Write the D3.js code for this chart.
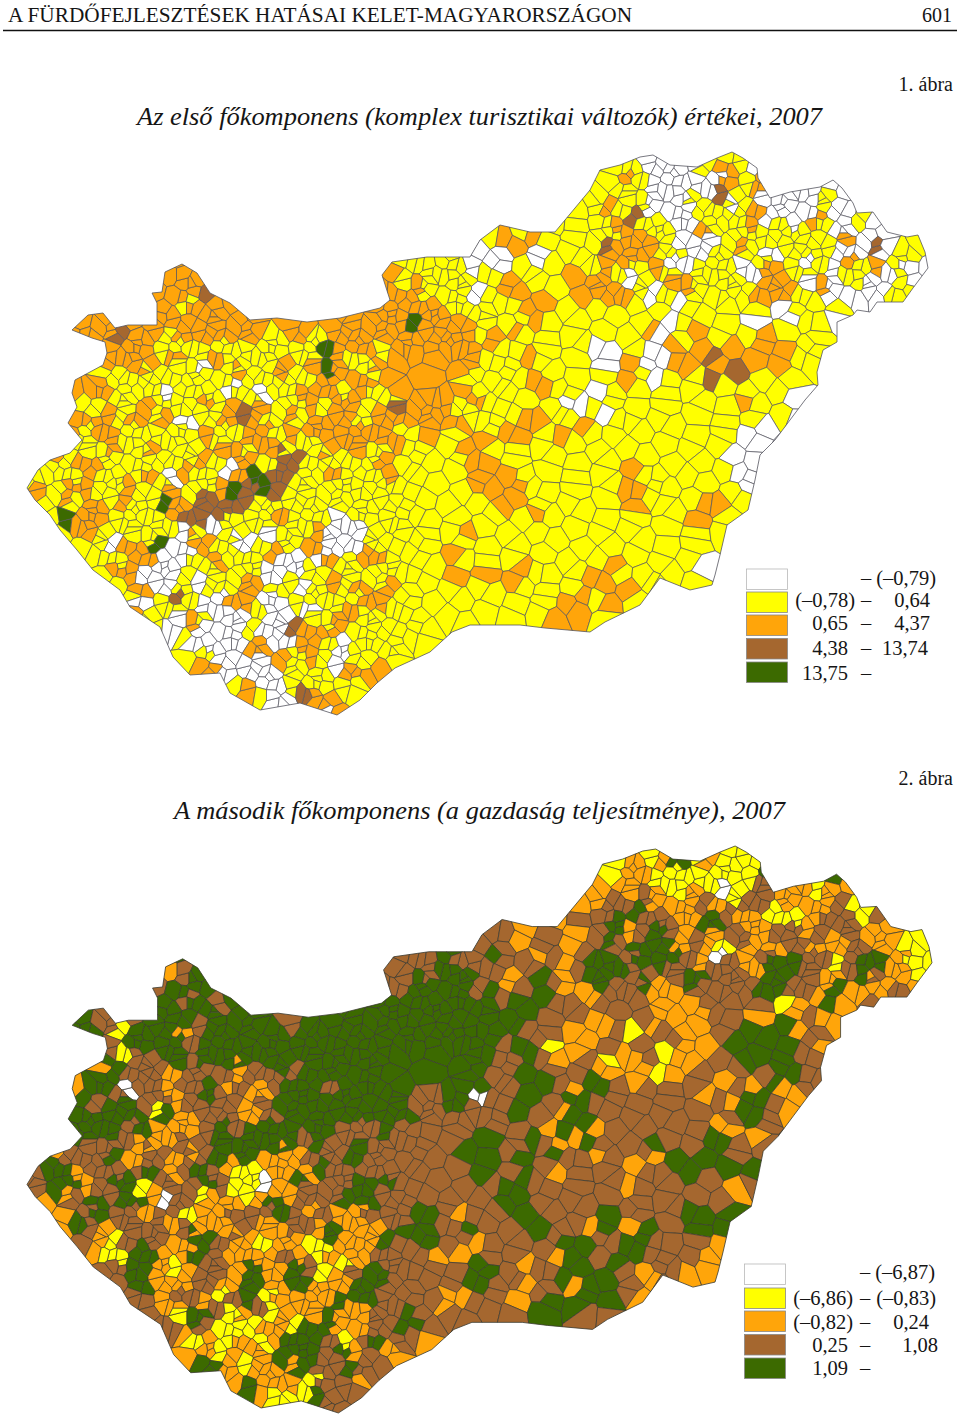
<!DOCTYPE html>
<meta charset="utf-8">
<style>
  body { margin: 0; background: #fff; }
  text { font-family: "Liberation Serif", serif; fill: #151515; }
</style>
<script src="https://d3js.org/d3.v7.min.js"></script>
<div id="page"></div>
<script>
// Category (0 white ... 4 green)
const classColors = ["#ffffff", "#ffff00", "#ffa50a", "#a5672f", "#3c6a00"];
const legend1Low = ["", "(–0,78)", "0,65", "4,38", "13,75"];
const legend1High = ["(–0,79)", "0,64", "4,37", "13,74", ""];
const legend2Low = ["", "(–6,86)", "(–0,82)", "0,25", "1,09"];
const legend2High = ["(–6,87)", "(–0,83)", "0,24", "1,08", ""];

// Country border
const outline = [[27,488],[38,470],[50,460],[70,453],[82,440],[68,423],[77,407],[72,393],[75,380],[103,365],[107,353],[105,342],[92,338],[72,330],[88,315],[103,313],[115,328],[128,325],[157,325],[157,303],[152,293],[162,292],[165,272],[182,264],[197,273],[210,293],[230,303],[250,320],[277,318],[307,322],[340,318],[380,308],[390,300],[382,275],[392,262],[427,257],[470,257],[480,240],[500,225],[530,232],[555,232],[590,190],[600,170],[620,165],[640,157],[653,155],[670,165],[697,167],[717,158],[732,152],[743,158],[757,168],[758,178],[770,198],[790,192],[820,187],[833,180],[842,188],[853,203],[857,213],[873,212],[887,232],[907,237],[918,235],[925,252],[928,268],[913,288],[903,302],[890,302],[877,302],[870,312],[857,310],[853,315],[837,322],[837,342],[823,350],[817,372],[818,385],[805,400],[790,420],[775,440],[760,455],[755,480],[748,510],[727,525],[720,555],[715,575],[712,585],[690,590],[660,578],[640,605],[605,622],[590,632],[545,628],[520,625],[470,625],[452,632],[430,652],[395,668],[377,683],[360,700],[337,715],[300,703],[260,710],[230,693],[220,673],[190,675],[173,657],[160,627],[130,607],[120,590],[93,570],[77,550],[60,530],[50,515],[35,500]];

// Class of each map area: [first column, classes]
// "." leaves a gap in the row, blanks are only for reading
const map1Rows = [
[47,"1"],
[39,"1100001210"],
[39,"12100000212....0"],
[38,"1110 00 1 0 3 1 2 0000 1 0"],
[37,"11 2 1 1 0 0 0 1 1 0 1 2 000 1 00"],
[35,"1111231100111201021010"],
[31,"121211111221102011111110200"],
[29,"1002200113222110012101111003011"],
[10,"2.............. 11111000101111221200111012101021 2100"],
[9,"222............ 211111112111222101 1211110221001100 10"],
[9,"2223........... 222111012221122221 012111122212 0000 11"],
[9,"21222......... 22222 11111 222 1111111 0 111111 0 11111"],
[4,"2222.2222222..... 22222 4 222 1111 2 11111111 0 11111 000 11 0"],
[3,"2223 22 1 222222 1 22 1 2222222222 1 22 11111111 2 0 1 22 111 2 1111"],
[5,"2222 11111111111 4 222 1 2222222 111111 000 1 0 222222222 11"],
[5,"22222 1 0 2 1111 2 1 22 11 22....2 111 2 1111 00 2 00 22 3 22222 11"],
[5,"111111111 2 11 2 11 4 22 1 2..2.2 1111 2 11111 2 1 0 111 333 1111"],
[3,"222 111 0 111 0 1 0 11 222 1 2 1 2....2 1111 2 111 0 1111111111111"],
[4,"1111 2 111 2 1 2 1 2 11 2 1 22 11 3 222 1 2 11111 00 1111111111 2 11 0"],
[3,"222 1 2 1 2 0 11 2 3 2 1 2 1 222 1 222222 1111 22 111 0 111111111111 0"],
[3,"2 1 22 11111 2 11 22 1 2222222 11 22 111 222 1 22 1111111111 000"],
[2,"2 11 2 11 2 1111 2 1 22 111 222 1 2 1111 22 11111111111111111 000"],
[2,"2 1 2 1111111 2 1 22 1 33 11111 2 11111 222 11111111111111 0000"],
[0,"1111 2 111 2 0 2 11 0 2 4 33 11 2 111 2 11111 222 1111111 2 111111 000"],
[0,"1 2 1 22 11 2 11 2 11 2 4 3 4 3 111111111111 2222 111111 22 111111 0"],
[1,"1 2 1 2 1 2 11 4 2 3333 1111111111111111 222 111111 2 1111 22 1"],
[2,"1 4 22 1111 2 333 111 2 111 0 111111111111 2 1111111111 22 1"],
[2,"1 22 11111 0 1 0 111 0 11 2 000 111111 2 11111111111111111"],
[4,"11 0 2 1 4 0 22 1 0 0 111 2 000 111111111111111111111111"],
[4,"111 22 00 1 2 111 2 000 2 1 22 1111 2 11111111111111111"],
[5,"1 22 0 00 11111 00 0 1111111111 22222 1111 22 11111 00"],
[6,"1 2 00 1 0 11 22 11 0 1 2 1 2 1 2 1111111 2 11111 222 1111"],
[7,"1 0 1 3 1 0 0 22 0 0 1 1111 22 11111111111 22 1 22 11"],
[7,"2 11 0 1 0 0 0 1 000 1 22 1111111111111 222 11"],
[9,"1 0 2 0 0 0 1 0 0 3 2 1 2 11 111111"],
[10,"1 0 0 0 0 2 00 22 1 0 11111"],
[11,"1 1 00 2 0 2 1 2 1 0 1111"],
[11,"22 000 0 111 0 222"],
[14,"1 2 00 11111"],
[15,"1 00 3 22 1"],
[20,"02"]
];

const map2Rows = [
[47,"1"],
[39,"1212412111"],
[39,"12211111114....4"],
[38,"22221121 0 1 33 22 1 22"],
[37,"22333 222 3 2 1 33 2222 3 1"],
[35,"2333 44 33 22 4 3 22 111 2 33 1 3"],
[31,"33 22 33 2 3 4 2 3 4 3 2 4 2 3 22 33 2 333 22"],
[29,"4 33 22 33 22 4 3 444 2 3 2 1 3 22 33 222 3 22 11"],
[10,"4.............. 333 4 33 4 33 2 3 2 3 44 3 444 3 2 0 3 2 3 44 33 1 3 44 2 11"],
[9,"2 3 4............ 333 444 33 2 3 4 2 3 444 3333 4 333 2 44 33 2 3 4 3 22 1"],
[9,"3444........... 33 4444 3 4 2 333 22 4 33 4 22 4 3333 44 33 2 4 222 3 2"],
[9,"43434......... 44444444 3 444 33 2 3333 222 33333 1 22 4 22 3"],
[4,"4343.4444444..... 44444444444444 333 2 333 2222 333 222 3 22"],
[3,"44314442344 444 3 444444444444444 333 222 3 1 2 3 222 33 444 2 3 2"],
[5,"4344443 44444444444444444444 3 4 3 11 22 33333 222 44444 3 2"],
[5,"4133 4444444444444444 .... 44 33 4 3 22 3 1 22 3 1 222 3 4444 33"],
[5,"2433323332334 3 444444 ..4.44 33 44 333 2222 1 22 33333 44 3"],
[3,"24403323342 3 2 3 444 3 4444 .... 44 3 33 4 3 2 44 3 2 33333 2 3 2 4 2 33"],
[4,"433433 2 3 4 33 2 3 4 44444444 33 44 0 33 44 3 44 3333333 2 3 2 44 3 2"],
[3,"44444 1 4 2 333 22 3 4 44444444 333333 44 3 2 44 3 33333333 44 3 2"],
[3,"4444 3 4 222 3 4 3 444444 333 4 3333333333 2 44 2 3333333 222 33"],
[2,"44 333 222 33 444444 3 4 33 4 3333333 44 3 4 3 22 4 333 4 333 44 3 2 33"],
[2,"2 333 4 2 33 22 3 444 222 333 4 333333 444 3 444 33 2 333 2 4444 3"],
[0,"3 44 2 3333 4 2 3 4 3 2 11 222 4 3 333333333 44 333 2 3333 2 333 44444"],
[0,"33 44 2 3 44 1 333 4 3 11 0 2 4 333 444 3333333 44 333333 2 333333 2 3"],
[1,"22 3 4 3 44 2 0 3 1 22 1 2 4 2 333 44 3 3333333 444 33333333333333"],
[3,"2 3 4 33 2 33 1 22 333 4 3 2 3 22 3 33 44 3 2 333 44 3333 4 3333 4444"],
[2,"2 4 3 2 333 2 3 222 3 22 33 2 4 222 3 44 33 4 3333 4 33 2 44 2 4 33 4444"],
[4,"3 2 1 333 2 44 3 22 1 22 1 4 222 4 3 44 33 2 33333 44 33 44 3333 2"],
[4,"2 11 44 22 4 3 2222 3 2 1 222 3333 222 33333 2 44 33 4 3333 2"],
[5,"33 44 2 1 2 33 2 4 22 4 3 11 3 4 333333 44 3 2 333 444 3 2 33 222"],
[6,"3 4 222 33 2 44 2 44 222 44 33333 44 33 2 3 4 2 444 3 2 33"],
[7,"33233 2 1 3 4 1 2222 444 3333 22 333 2 3 44444 3 2"],
[8,"3 2 1 4 3 1 2 3 1 222222 33 4 3 2 333333 444 333"],
[9,"33 4 3 111 22 1 44 22 33 44 333"],
[10,"2 1 2 1 2 1 2 444 3 1 3 4 33 2"],
[11,"22 1 222 444 3 4 2 3 22"],
[11,"44 2 1 222 4 33 4 33"],
[14,"2 4 222 1 33 2"],
[15,"2 111 4 33"],
[20,"33"]
];

const width = 960, height = 1415;
const svg = d3.select("#page").append("svg").attr("width", width).attr("height", height);

// lattice the samples sit on
const col = d3.scaleLinear().domain([0, 60]).range([25, 925]);
const row = d3.scaleLinear().domain([0, 40]).range([152, 712]);
// small fixed nudges so the cells are not a plain honeycomb, purely cell shape
const nudgeX = [3, -4, 1, 5, -2, -5, 2, 4, -3];
const nudgeY = [-3, 2, 5, -4, 1, 4, -5, -1, 3];
const splitDir = [[4, 1], [1, 4], [3, -3]];

function readRows(rows) {
    const cells = [];
    rows.forEach(function (r, i) {
        const codes = r[1].replace(/ /g, "");
        let prev = null;
        for (let k = 0; k < codes.length; k++) {
            const ch = codes[k];
            if (ch === ".") { prev = null; continue; }
            const c = r[0] + k;
            const cx = col(c) + (i % 2 ? 7.5 : 0);
            const cy = row(i);
            const px = cx + nudgeX[(c * 2 + i * 5) % 9];
            const py = cy + nudgeY[(c * 4 + i * 7) % 9];
            // villages are small in the west and the north-east, units are bigger on the plain
            const small = cx < 400 || (cy < 420 && cx < 480) || (cy < 300 && cx > 590);
            const large = !small && (cx > 520 || (cy > 430 && cx > 420));
            // on the plain same class neighbours share a cell
            if (large && ch === prev && (c + i) % 2 === 0) continue;
            // in village country one sample is drawn as two units of the same class
            if (small && prev !== null && codes[k + 1] && codes[k + 1] !== ".") {
                const d = splitDir[(c + i * 2) % 3];
                cells.push({ cx: px + d[0], cy: py + d[1], cls: +ch });
                cells.push({ cx: px - d[0], cy: py - d[1], cls: +ch });
            } else {
                cells.push({ cx: px, cy: py, cls: +ch });
            }
            prev = ch;
        }
    });
    return cells;
}

function drawMap(id, rows, yRange, xRange, stroke) {
    const x = d3.scaleLinear().domain([25, 930]).range(xRange);
    const y = d3.scaleLinear().domain([152, 714]).range(yRange);
    const cells = readRows(rows);
    const line = d3.line().x(d => x(d[0])).y(d => y(d[1])).curve(d3.curveLinearClosed);

    svg.append("clipPath").attr("id", id).append("path").attr("d", line(outline));

    const delaunay = d3.Delaunay.from(cells, d => x(d.cx), d => y(d.cy));
    const voronoi = delaunay.voronoi([0, yRange[0] - 20, width, yRange[1] + 20]);

    svg.append("g").attr("clip-path", `url(#${id})`)
        .selectAll("path")
        .data(cells)
        .join("path")
        .attr("d", (d, i) => voronoi.renderCell(i))
        .attr("fill", d => classColors[d.cls])
        .attr("stroke", stroke)
        .attr("stroke-width", 0.7);

    svg.append("path").attr("d", line(outline))
        .attr("fill", "none").attr("stroke", stroke).attr("stroke-width", 0.8);
}

drawMap("clip1", map1Rows, [152, 714], [25, 930], "#55555f");
drawMap("clip2", map2Rows, [846, 1412], [25, 934], "#3a3a30");

function drawLegend(low, high, sx, swatchY, baseY, lowX, dashX, highX) {
    const g = svg.append("g");
    g.selectAll("rect").data(classColors).join("rect")
        .attr("x", sx)
        .attr("y", (d, i) => swatchY[i])
        .attr("width", 41).attr("height", 20.5)
        .attr("fill", d => d)
        .attr("stroke", (d, i) => i === 0 ? "#b8b8b8" : "#888").attr("stroke-width", 0.8);
    low.forEach(function (t, i) {
        if (t) g.append("text").attr("x", lowX[i]).attr("y", baseY[i]).attr("text-anchor", "end").attr("font-size", 20.5).text(t);
        g.append("text").attr("x", dashX).attr("y", baseY[i]).attr("text-anchor", "middle").attr("font-size", 20.5).text("–");
        if (high[i]) g.append("text").attr("x", highX[i]).attr("y", baseY[i]).attr("text-anchor", "end").attr("font-size", 20.5).text(high[i]);
    });
}
drawLegend(legend1Low, legend1High, 746.5, [569, 592, 615, 638.5, 662], [585, 607, 630, 655, 680], [0, 855, 848, 848, 848], 866, [936, 930, 930, 928, 0]);
drawLegend(legend2Low, legend2High, 744.5, [1264, 1288, 1311, 1334.5, 1358], [1279, 1305, 1329, 1352, 1375], [0, 853, 853, 848, 848], 865, [935, 936, 929, 938, 0]);

// page furniture
svg.append("text").attr("x", 8).attr("y", 22).attr("font-size", 20).attr("textLength", 624).attr("lengthAdjust", "spacingAndGlyphs").text("A FÜRDŐFEJLESZTÉSEK HATÁSAI KELET-MAGYARORSZÁGON");
svg.append("text").attr("x", 952).attr("y", 22).attr("font-size", 20).attr("text-anchor", "end").text("601");
svg.append("line").attr("x1", 3).attr("x2", 957).attr("y1", 30.5).attr("y2", 30.5).attr("stroke", "#111").attr("stroke-width", 1.6);
svg.append("text").attr("x", 953).attr("y", 91).attr("font-size", 20).attr("text-anchor", "end").text("1. ábra");
svg.append("text").attr("x", 137).attr("y", 125).attr("font-size", 24.5).attr("font-style", "italic").attr("textLength", 685).attr("lengthAdjust", "spacingAndGlyphs").text("Az első főkomponens (komplex turisztikai változók) értékei, 2007");
svg.append("text").attr("x", 953).attr("y", 785).attr("font-size", 20).attr("text-anchor", "end").text("2. ábra");
svg.append("text").attr("x", 174).attr("y", 819).attr("font-size", 24.5).attr("font-style", "italic").attr("textLength", 611).attr("lengthAdjust", "spacingAndGlyphs").text("A második főkomponens (a gazdaság teljesítménye), 2007");
</script>
